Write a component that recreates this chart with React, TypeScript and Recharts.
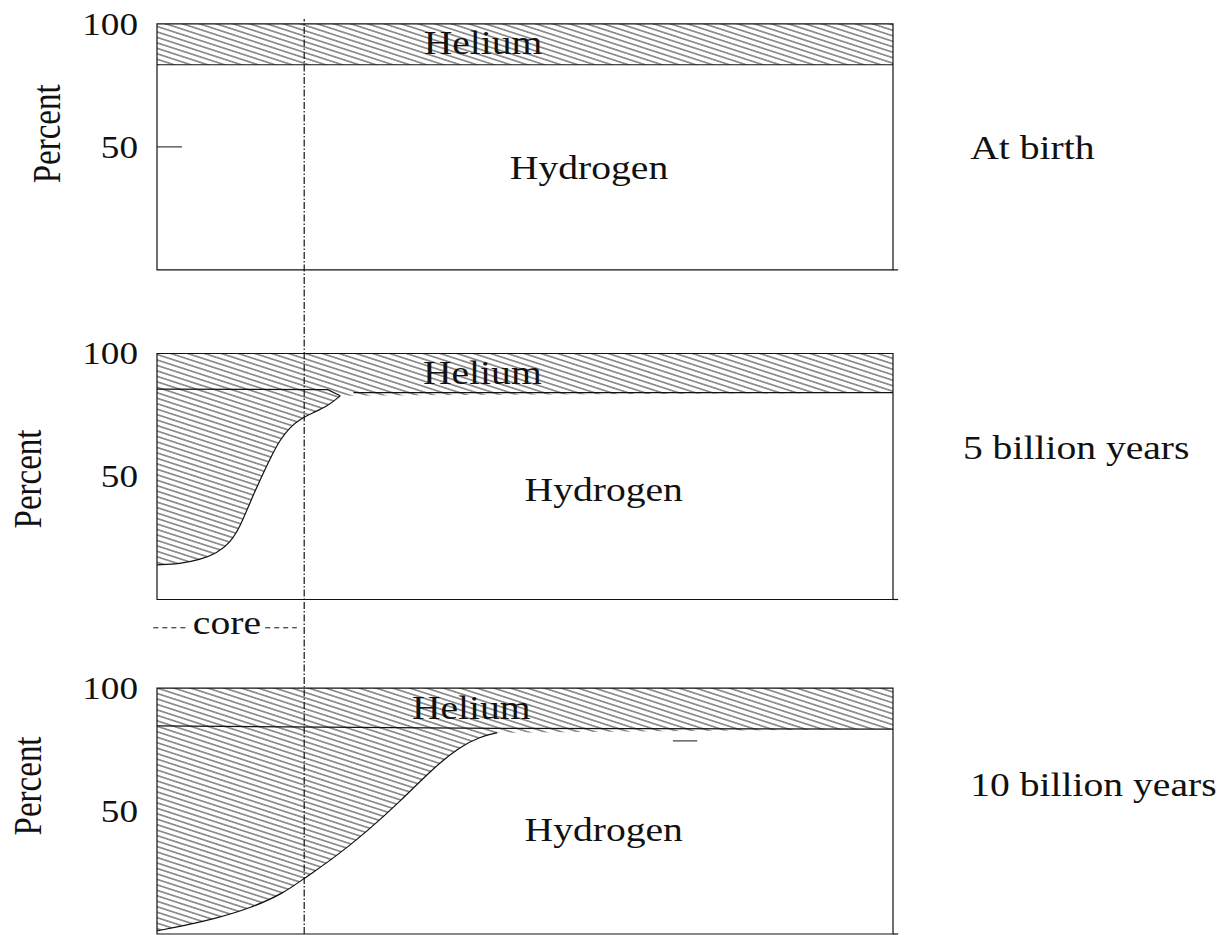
import {
  ComposedChart,
  XAxis,
  YAxis,
  Area,
  Line,
  ReferenceArea,
  ReferenceLine,
  ReferenceDot,
} from "recharts";

// the three panels share one y axis, each shifted up by its offset
const panelOffsets = [270, 136, 0];
const panelTicks = [50, 100];
const stageLabels = ["At birth", "5 billion years", "10 billion years"];

// hydrogen percent below the helium envelope, per panel
const envelopeHydrogen = [83.4, 84.1, 83.3];
const coreRadius = 0.2;

// 5 billion years: hydrogen percent vs. radius fraction inside the core
const radius5 = [0, 0.031, 0.058, 0.081, 0.099, 0.113, 0.126, 0.14, 0.154, 0.167, 0.181, 0.194, 0.212, 0.231, 0.249];
const hydrogen5 = [14.1, 14.5, 16.1, 18.8, 22.9, 29.6, 39.2, 48.6, 57.5, 64.9, 70.1, 73.3, 76, 78.4, 82.8];
const coreTopRadius5 = [0, 0.232, 0.249];
const coreTop5 = [85.5, 85.3, 82.8];
const envelopeStart5 = 0.267;

// 10 billion years
const radius10 = [0, 0.036, 0.081, 0.126, 0.172, 0.203, 0.24, 0.285, 0.33, 0.375, 0.412, 0.439, 0.462];
const hydrogen10 = [1.3, 3.3, 6.4, 10.4, 16.5, 23.3, 30.8, 41.6, 53.8, 67.4, 76.2, 80.2, 81.8];
const coreTopRadius10 = [0, 0.462, 1];
const coreTop10 = [84.6, 83.6, 83.3];

// label anchors (layout, in axis units)
const layout = {
  helium: [[0.443, 92], [0.442, 92], [0.427, 92]],
  hydrogen: [[0.587, 41.5], [0.607, 44.6], [0.607, 42.3]],
  stage: [[1.105, 49.6], [1.095, 61.6], [1.105, 60.6]],
  percent: [[-0.1495, 55.3], [-0.175, 49], [-0.175, 60.2]],
};

const INK = "#111";
const FONT = "'Liberation Serif', 'Times New Roman', serif";
const STRETCH = 1.2;

const yTicks = panelOffsets.flatMap((o) => panelTicks.map((t) => t + o)).sort((a, b) => a - b);
const tickText = (v: number) => {
  const off = panelOffsets.find((o) => v >= o && v <= o + 100) ?? 0;
  return String(v - off);
};

const pts = (xs: number[], ys: number[], off: number) => xs.map((x, i) => ({ x, y: ys[i] + off }));
const band = (xs: number[], lows: number[], off: number) =>
  xs.map((x, i) => ({ x, band: [lows[i] + off, 100 + off] }));

const tip5 = radius5[radius5.length - 1];
const tip10 = radius10[radius10.length - 1];
const heliumBirth = band([0, 1], [envelopeHydrogen[0], envelopeHydrogen[0]], panelOffsets[0]);
const helium5Core = band(radius5, hydrogen5, panelOffsets[1]);
const helium5Env = band([tip5, 1], [hydrogen5[hydrogen5.length - 1], envelopeHydrogen[1]], panelOffsets[1]);
const helium10Core = band(radius10, hydrogen10, panelOffsets[2]);
const helium10Env = band([tip10, 1], [hydrogen10[hydrogen10.length - 1], envelopeHydrogen[2]], panelOffsets[2]);

function StretchText({ x, y, text, size = 33, anchor = "middle", rotate = false }: any) {
  if (rotate) {
    return (
      <text
        transform={`translate(${x},${y}) rotate(-90) scale(1,${STRETCH})`}
        textAnchor="middle"
        dominantBaseline="central"
        fontFamily={FONT}
        fontSize={size}
        fill={INK}
      >
        {text}
      </text>
    );
  }
  return (
    <text
      x={x}
      y={y}
      textAnchor={anchor}
      dominantBaseline="central"
      fontFamily={FONT}
      fontSize={size}
      fill={INK}
      transform={`translate(${x},0) scale(${STRETCH},1) translate(${-x},0)`}
    >
      {text}
    </text>
  );
}

function YTick({ x, y, payload }: any) {
  return <StretchText x={x} y={y} text={tickText(payload.value)} size={31} anchor="end" />;
}

function textDot(key: string, x: number, y: number, text: string, anchor = "middle", rotate = false) {
  return (
    <ReferenceDot
      key={key}
      x={x}
      y={y}
      r={0}
      ifOverflow="visible"
      shape={(p: any) => <StretchText x={p.cx} y={p.cy} text={text} anchor={anchor} rotate={rotate} />}
    />
  );
}

const hatchProps = { dataKey: "band", fill: "url(#hatch)", fillOpacity: 1, stroke: "none", isAnimationActive: false };
const lineProps = { dataKey: "y", stroke: INK, strokeWidth: 1.2, dot: false, activeDot: false, isAnimationActive: false };

export default function App() {
  return (
    <div style={{ position: "absolute", left: 0, top: 0, background: "#fff" }}>
      <ComposedChart width={1230} height={935} margin={{ top: 19, right: 337, bottom: 1, left: 0 }}>
        <defs>
          <pattern id="hatch" patternUnits="userSpaceOnUse" width={12} height={5.2} patternTransform="rotate(18)">
            <line x1={0} y1={2.6} x2={12} y2={2.6} stroke="#222" strokeWidth={0.9} />
          </pattern>
        </defs>
        <XAxis type="number" dataKey="x" domain={[0, 1]} allowDataOverflow hide />
        <YAxis
          type="number"
          domain={[0, 372]}
          allowDataOverflow
          ticks={yTicks}
          width={157}
          axisLine={false}
          tickLine={false}
          tickSize={0}
          tickMargin={19}
          tick={<YTick />}
        />

        <Area data={heliumBirth} type="linear" {...hatchProps} />
        <Area data={helium5Core} type="basis" {...hatchProps} />
        <Area data={helium5Env} type="linear" {...hatchProps} />
        <Area data={helium10Core} type="basis" {...hatchProps} />
        <Area data={helium10Env} type="linear" {...hatchProps} />

        <Line data={pts([0, 1], [envelopeHydrogen[0], envelopeHydrogen[0]], panelOffsets[0])} {...lineProps} />
        <Line data={pts(radius5, hydrogen5, panelOffsets[1])} type="basis" {...lineProps} />
        <Line data={pts(coreTopRadius5, coreTop5, panelOffsets[1])} {...lineProps} />
        <Line data={pts([envelopeStart5, 1], [envelopeHydrogen[1], envelopeHydrogen[1]], panelOffsets[1])} {...lineProps} />
        <Line data={pts(radius10, hydrogen10, panelOffsets[2])} type="basis" {...lineProps} />
        <Line data={pts(coreTopRadius10, coreTop10, panelOffsets[2])} {...lineProps} />

        {panelOffsets.map((o, i) => (
          <ReferenceArea key={`frame${i}`} x1={0} x2={1} y1={o} y2={o + 100} fill="none" stroke={INK} strokeWidth={1.2} />
        ))}
        {panelOffsets.map((o, i) => (
          <ReferenceLine key={`base${i}`} segment={[{ x: 1, y: o }, { x: 1.007, y: o }]} ifOverflow="visible" stroke={INK} strokeWidth={1.2} />
        ))}

        <ReferenceLine x={coreRadius} stroke={INK} strokeWidth={1.2} strokeDasharray="7 2 1.5 2" />
        <ReferenceLine segment={[{ x: 0, y: panelOffsets[0] + 50 }, { x: 0.034, y: panelOffsets[0] + 50 }]} stroke={INK} strokeWidth={1} />
        <ReferenceLine segment={[{ x: 0.701, y: 78.5 }, { x: 0.734, y: 78.5 }]} stroke={INK} strokeWidth={1} />
        <ReferenceLine segment={[{ x: -0.005, y: 124.5 }, { x: 0.041, y: 124.5 }]} ifOverflow="visible" stroke={INK} strokeWidth={1} strokeDasharray="5 4" />
        <ReferenceLine segment={[{ x: 0.147, y: 124.5 }, { x: 0.19, y: 124.5 }]} stroke={INK} strokeWidth={1} strokeDasharray="5 4" />
        {textDot("core", 0.095, 126.3, "core")}

        {panelOffsets.map((o, i) => textDot(`he${i}`, layout.helium[i][0], layout.helium[i][1] + o, "Helium"))}
        {panelOffsets.map((o, i) => textDot(`h${i}`, layout.hydrogen[i][0], layout.hydrogen[i][1] + o, "Hydrogen"))}
        {panelOffsets.map((o, i) => textDot(`s${i}`, layout.stage[i][0], layout.stage[i][1] + o, stageLabels[i], "start"))}
        {panelOffsets.map((o, i) => textDot(`p${i}`, layout.percent[i][0], layout.percent[i][1] + o, "Percent", "middle", true))}
      </ComposedChart>
    </div>
  );
}
